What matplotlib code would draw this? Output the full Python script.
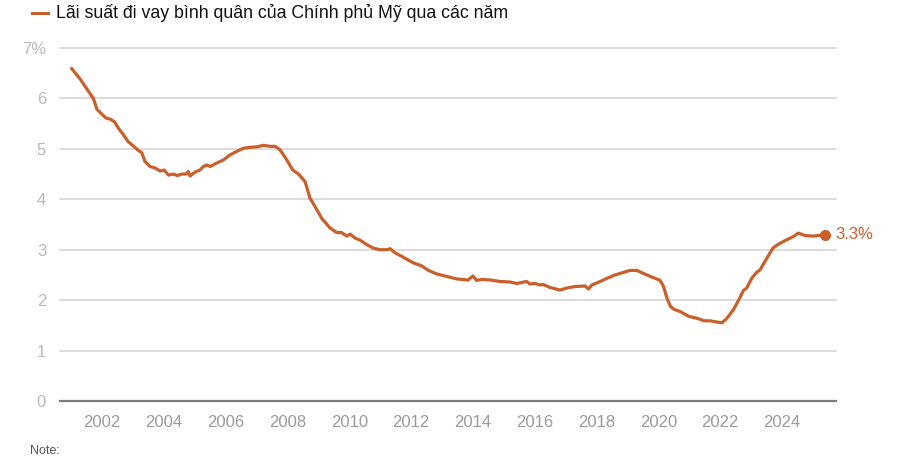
import matplotlib
matplotlib.use("Agg")
import matplotlib.pyplot as plt
from matplotlib import font_manager

years = [2001.02, 2001.18, 2001.31, 2001.45, 2001.61, 2001.72, 2001.83, 2001.99,
         2002.13, 2002.26, 2002.40, 2002.53, 2002.69, 2002.85, 2003.01, 2003.17,
         2003.28, 2003.39, 2003.55, 2003.72, 2003.88, 2004.01, 2004.15, 2004.31,
         2004.44, 2004.58, 2004.72, 2004.79, 2004.85, 2005.01, 2005.17, 2005.28,
         2005.40, 2005.50, 2005.71, 2005.93, 2006.14, 2006.36, 2006.57, 2006.79,
         2007.01, 2007.22, 2007.44, 2007.60, 2007.76, 2007.98, 2008.17, 2008.36,
         2008.57, 2008.73, 2008.89, 2009.11, 2009.38, 2009.59, 2009.75, 2009.92,
         2010.03, 2010.19, 2010.35, 2010.57, 2010.78, 2011.00, 2011.21, 2011.32,
         2011.48, 2011.75, 2012.07, 2012.34, 2012.56, 2012.83, 2013.15, 2013.48,
         2013.85, 2014.00, 2014.12, 2014.28, 2014.56, 2014.88, 2015.20, 2015.42,
         2015.74, 2015.85, 2016.01, 2016.17, 2016.28, 2016.50, 2016.82, 2017.04,
         2017.31, 2017.63, 2017.74, 2017.85, 2018.12, 2018.33, 2018.60, 2018.87,
         2019.09, 2019.30, 2019.52, 2019.74, 2019.95, 2020.06, 2020.17, 2020.28,
         2020.39, 2020.50, 2020.72, 2020.98, 2021.31, 2021.47, 2021.68, 2021.85,
         2022.06, 2022.22, 2022.43, 2022.65, 2022.75, 2022.86, 2023.02, 2023.18,
         2023.29, 2023.51, 2023.72, 2023.89, 2024.10, 2024.37, 2024.53, 2024.75,
         2025.02, 2025.18, 2025.40]
rates = [6.59, 6.47, 6.37, 6.24, 6.10, 6.00, 5.79, 5.69,
         5.61, 5.59, 5.54, 5.41, 5.28, 5.14, 5.06, 4.97,
         4.93, 4.75, 4.65, 4.62, 4.56, 4.58, 4.48, 4.50,
         4.47, 4.50, 4.50, 4.55, 4.46, 4.54, 4.58, 4.65,
         4.68, 4.65, 4.72, 4.78, 4.88, 4.95, 5.01, 5.03,
         5.04, 5.07, 5.05, 5.05, 4.98, 4.78, 4.58, 4.50,
         4.35, 4.02, 3.86, 3.62, 3.43, 3.34, 3.34, 3.27,
         3.31, 3.23, 3.19, 3.10, 3.03, 3.00, 3.00, 3.02,
         2.94, 2.85, 2.74, 2.68, 2.59, 2.52, 2.47, 2.42,
         2.40, 2.48, 2.39, 2.41, 2.40, 2.37, 2.36, 2.33,
         2.37, 2.32, 2.33, 2.30, 2.31, 2.25, 2.20, 2.24,
         2.27, 2.28, 2.22, 2.30, 2.37, 2.43, 2.50, 2.55,
         2.59, 2.59, 2.53, 2.47, 2.42, 2.39, 2.27, 2.04,
         1.88, 1.82, 1.77, 1.68, 1.63, 1.59, 1.59, 1.57,
         1.55, 1.64, 1.81, 2.06, 2.19, 2.24, 2.43, 2.55,
         2.60, 2.83, 3.04, 3.11, 3.18, 3.26, 3.33, 3.28,
         3.27, 3.28, 3.30]

x_ticks = [2002, 2004, 2006, 2008, 2010, 2012, 2014, 2016, 2018, 2020, 2022, 2024]
y_ticks = [0, 1, 2, 3, 4, 5, 6, 7]
y_labels = ["0", "1", "2", "3", "4", "5", "6", "7%"]
series_name = "Lãi suất đi vay bình quân của Chính phủ Mỹ qua các năm"
end_label = "3.3%"

names = {f.name for f in font_manager.fontManager.ttflist}
narrow = "Liberation Sans Narrow" in names
tick_font = "Liberation Sans Narrow" if narrow else "Liberation Sans"
tick_size = 13.5 if narrow else 12

LINE = "#c9602c"
W, H = 900, 459
fig = plt.figure(figsize=(W / 100, H / 100), dpi=100)
ax = fig.add_axes([60 / W, 1 - 401 / H, (836 - 60) / W, (401 - 48) / H])

ax.set_xlim(2000.64, 2025.75)
ax.set_ylim(0, 7)
for s in ax.spines.values():
    s.set_visible(False)

for v in y_ticks[1:]:
    ax.axhline(v, color="#d6d6d6", lw=1.2, zorder=1, clip_on=False)
ax.axhline(0, color="#7a7a7a", lw=1.6, zorder=2, clip_on=False)

ax.plot(years, rates, color=LINE, lw=2.3, zorder=3, solid_joinstyle="round")
ax.plot([years[-1]], [rates[-1]], "o", color=LINE, ms=7, zorder=4, clip_on=False)
ax.annotate(end_label, (years[-1], rates[-1]), xytext=(7, 0), textcoords="offset points",
            va="center", ha="left", color=LINE, fontsize=12, family=tick_font)

ax.set_xticks(x_ticks)
ax.set_xticklabels([str(t) for t in x_ticks], family=tick_font, fontsize=tick_size, color="#9a9a9a")
ax.set_yticks(y_ticks)
ax.set_yticklabels(y_labels, family=tick_font, fontsize=tick_size, color="#b8b8b8")
ax.tick_params(axis="x", length=0, pad=10)
ax.tick_params(axis="y", length=0, pad=10)

# legend-style header
fig.add_artist(plt.Line2D([32 / W, 48 / W], [1 - 13 / H, 1 - 13 / H], color=LINE, lw=2.2))
fig.text(56 / W, 1 - 13 / H, series_name, ha="left", va="center", fontsize=12.8,
         family="Liberation Sans", color="#111111")

fig.text(30 / W, 2 / H, "Note:", ha="left", va="bottom", fontsize=9,
         family="Liberation Sans", color="#555555")

fig.savefig("out.png", dpi=100)
